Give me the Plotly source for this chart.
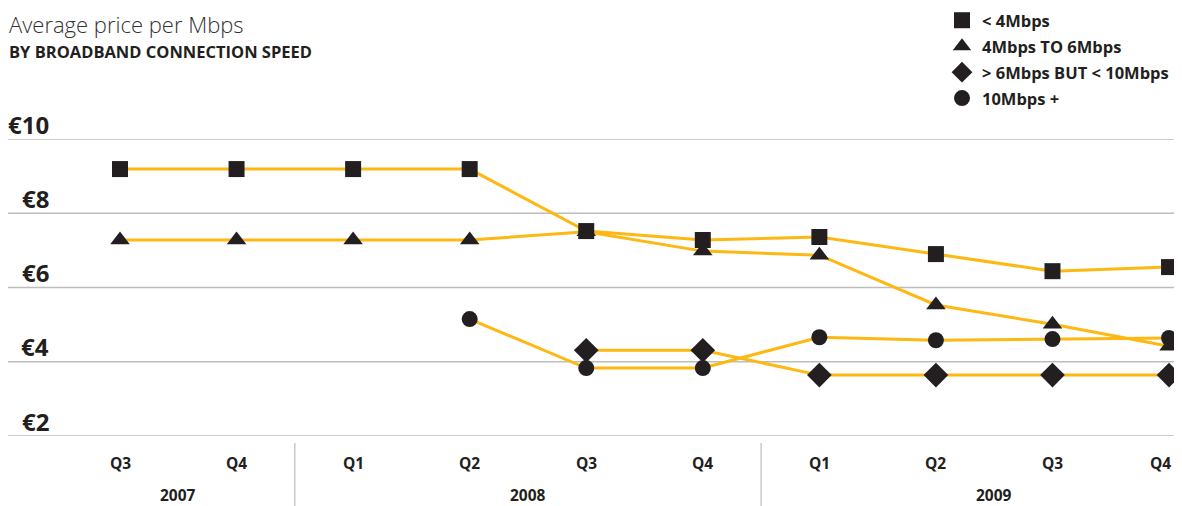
import plotly.graph_objects as go

quarters = ["Q3", "Q4", "Q1", "Q2", "Q3", "Q4", "Q1", "Q2", "Q3", "Q4"]
years = ["2007", "2008", "2009"]
year_spans = [(0, 1), (2, 5), (6, 9)]

series_names = ["< 4Mbps", "4Mbps TO 6Mbps", "> 6Mbps BUT < 10Mbps", "10Mbps +"]
under_4 = [9.19, 9.19, 9.19, 9.19, 7.52, 7.28, 7.36, 6.90, 6.44, 6.55]
from_4_to_6 = [7.28, 7.28, 7.28, 7.28, 7.50, 6.98, 6.87, 5.53, 5.01, 4.42]
from_6_to_10 = [None, None, None, None, 4.31, 4.31, 3.64, 3.64, 3.64, 3.64]
over_10 = [None, None, None, 5.15, 3.83, 3.83, 4.66, 4.58, 4.61, 4.64]

y_ticks = [2, 4, 6, 8, 10]
y_ticktext = ["€2", "€4", "€6", "€8", "€10"]

LINE = "#FDB813"
MARK = "#231F20"
FONT = "Open Sans"

# page has an 8px body margin; work in figure pixels = page pixels - 8
OFF = 8
W, H = 1182 - OFF, 506 - OFF
top, bottom = 139 - OFF, 436 - OFF
ph = bottom - top
step = 116.56
first_x = 120 - OFF

x = list(range(len(quarters)))
data = [under_4, from_4_to_6, from_6_to_10, over_10]
symbols = ["square", "triangle-up", "diamond", "circle"]
sizes = [16, 17, 19, 16]

fig = go.Figure()
for vals in data:
    fig.add_trace(go.Scatter(x=x, y=vals, mode="lines", line=dict(color=LINE, width=3),
                             showlegend=False, hoverinfo="skip", cliponaxis=False))
order = [3, 2, 1, 0]
for i in order:
    fig.add_trace(go.Scatter(x=x, y=data[i], mode="markers", name=series_names[i],
                             marker=dict(symbol=symbols[i], size=sizes[i], color=MARK),
                             legendrank=i + 1, legendgroup="g%d" % i, cliponaxis=False))


def py(p):
    return (bottom - (p - OFF)) / ph


def px(p):
    return max(p - OFF, 0) / W


shapes = []
for v in y_ticks:
    shapes.append(dict(type="line", xref="paper", x0=0, x1=1, yref="y", y0=v, y1=v,
                       line=dict(color="#BDBDBD", width=1.5), layer="below"))
for sep in [1.5, 5.5]:
    shapes.append(dict(type="line", xref="x", x0=sep, x1=sep, yref="paper",
                       y0=py(443), y1=py(506), line=dict(color="#BDBDBD", width=1.2)))

ann = []
for v, t in zip(y_ticks, y_ticktext):
    ann.append(dict(text=t, xref="paper", x=px(51), xanchor="right", yref="y", y=v,
                    yshift=15, yanchor="middle", showarrow=False,
                    font=dict(family=FONT, size=24, color=MARK, weight="bold")))
for i, q in enumerate(quarters):
    last = i == len(quarters) - 1
    ann.append(dict(text=q, xref="x", x=i, xanchor="right" if last else "center",
                    xshift=4 if last else 0, yref="paper", y=py(463),
                    yanchor="middle", showarrow=False,
                    font=dict(family=FONT, size=15.5, color=MARK, weight="bold")))
for yr, (a, b) in zip(years, year_spans):
    ann.append(dict(text=yr, xref="x", x=(a + b) / 2, xanchor="center", yref="paper",
                    y=py(495), yanchor="middle", showarrow=False,
                    font=dict(family=FONT, size=15.5, color=MARK, weight="bold")))
ann.append(dict(text="Average price per Mbps", xref="paper", x=0, xanchor="left",
                yref="paper", y=py(OFF), yanchor="top", showarrow=False, borderpad=0,
                font=dict(family=FONT, size=22, color="#333333", weight=300)))
ann.append(dict(text="BY BROADBAND CONNECTION SPEED", xref="paper", x=0, xanchor="left",
                yref="paper", y=py(52), yanchor="middle", showarrow=False, borderpad=0,
                font=dict(family=FONT, size=16.5, color=MARK, weight="bold")))

x0 = -first_x / step
x1 = x0 + W / step

fig.update_layout(
    width=W, height=H,
    margin=dict(l=0, r=0, t=top, b=H - bottom, autoexpand=False),
    paper_bgcolor="white", plot_bgcolor="white",
    xaxis=dict(range=[x0, x1], showgrid=False, zeroline=False, showticklabels=False,
               showline=False, fixedrange=True),
    yaxis=dict(range=[2, 10], showgrid=False, zeroline=False, showticklabels=False,
               showline=False, fixedrange=True),
    shapes=shapes, annotations=ann,
    legend=dict(x=px(942), xanchor="left", y=py(3), yanchor="top",
                font=dict(family=FONT, size=16.5, color=MARK, weight="bold"),
                bgcolor="rgba(0,0,0,0)", itemwidth=30, tracegroupgap=1.5),
    showlegend=True,
)

fig.write_html("out.html")
